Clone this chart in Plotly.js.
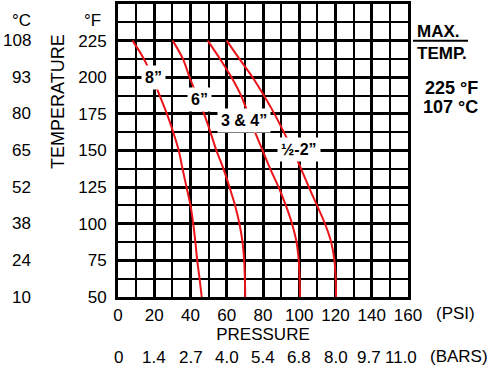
<!DOCTYPE html>
<html>
<head>
<meta charset="utf-8">
<script src="https://cdn.plot.ly/plotly-3.0.1.min.js"></script>
<style>html,body{margin:0;padding:0;background:#fff;}#chart{width:492px;height:369px;}</style>
</head>
<body>
<div id="chart"></div>
<script>
// ---- data ----
const psiTicks = [0, 20, 40, 60, 80, 100, 120, 140, 160];
const barsLabels = ['0', '1.4', '2.7', '4.0', '5.4', '6.8', '8.0', '9.7', '11.0'];
const tempTicksF = [50, 75, 100, 125, 150, 175, 200, 225];
const tempTicksC = ['10', '24', '38', '52', '65', '80', '93', '108'];
const maxTempF = 225;

const curveTemp = [225, 212.5, 200, 187.5, 175, 162.5, 150, 137.5, 125, 112.5, 100, 87.5, 75, 62.5, 50];
const curve8Psi     = [8, 14.3, 19, 23, 27, 30.5, 33.5, 35.6, 37.8, 40, 41.5, 42.7, 43.7, 45, 46.2];
const curve6Psi     = [30.2, 35.8, 39.5, 43.5, 47.5, 51, 54.3, 58.2, 61.5, 64.6, 67, 68.7, 69.6, 70, 70.2];
const curve34Psi    = [49.5, 56.3, 62.6, 67.9, 71.8, 75.6, 79.8, 84, 88.6, 92.6, 96, 98.5, 99.7, 100.2, 100.4];
const curveHalf2Psi = [60, 67, 74.2, 80.5, 86.3, 91.5, 96.5, 101, 105.3, 109.8, 114.2, 117.6, 119.4, 120.1, 120.3];

const curveLabels = ['8\u201D', '6\u201D', '3 &amp; 4\u201D', '\u00BD-2\u201D'];
const curveLabelPsi = [19.6, 45.2, 69.6, 99.8];
const curveLabelTemp = [199.5, 184.5, 170.8, 150.5];

// ---- geometry helpers (pixel -> paper) ----
const L = 118, R = 408, T = 4, B = 297;
const px = x => (x - L) / (R - L);
const py = y => (B - y) / (B - T);

const FONT = 'Liberation Sans, Arial, Helvetica, sans-serif';
const RED = 'rgb(236,20,24)';

const mk = (xs, ys) => ({
  x: xs, y: ys, type: 'scatter', mode: 'lines',
  line: {color: RED, width: 2, shape: 'spline', smoothing: 1},
  hoverinfo: 'skip'
});

const traces = [
  mk(curve8Psi, curveTemp),
  mk(curve6Psi, curveTemp),
  mk(curve34Psi, curveTemp),
  mk(curveHalf2Psi, curveTemp)
];

const annotations = [];
// curve labels
curveLabels.forEach((t, i) => annotations.push({
  x: curveLabelPsi[i], y: curveLabelTemp[i], xref: 'x', yref: 'y',
  text: t, showarrow: false, bgcolor: '#fff', borderpad: 3,
  font: {family: FONT, size: 16, color: '#000', weight: 'bold'}
}));
// Celsius column
tempTicksC.forEach((t, i) => annotations.push({
  x: px(33), y: tempTicksF[i], xref: 'paper', yref: 'y', xanchor: 'right', yanchor: 'middle',
  text: t, showarrow: false, font: {family: FONT, size: 17, color: '#000'}
}));
// bars row
barsLabels.forEach((t, i) => annotations.push({
  x: psiTicks[i], y: py(357), xref: 'x', yref: 'paper', yanchor: 'middle',
  xshift: i === barsLabels.length - 1 ? -7 : (i === barsLabels.length - 2 ? -3 : 0),
  text: t, showarrow: false, font: {family: FONT, size: 17, color: '#000'}
}));
const txt = (x, y, t, size, bold, extra) => annotations.push(Object.assign({
  x: px(x), y: py(y), xref: 'paper', yref: 'paper', xanchor: 'center', yanchor: 'middle',
  text: t, showarrow: false,
  font: {family: FONT, size: size, color: '#000', weight: bold ? 'bold' : 'normal'}
}, extra || {}));
txt(21, 21, '\u00B0C', 17, false);
txt(92, 21, '\u00B0F', 17, false);
txt(58, 102, 'TEMPERATURE', 18, false, {textangle: -90});
txt(455, 313, '(PSI)', 17, false);
txt(459, 356, '(BARS)', 17, false);
txt(438.5, 31, 'MAX.', 17, true);
txt(441.5, 53, 'TEMP.', 17, true);
txt(451, 87.5, '225\u00A0\u00B0F', 18, true);
txt(450, 106.5, '107\u00A0\u00B0C', 18, true);

const shapes = [
  {type: 'line', xref: 'x', yref: 'y', x0: 0, x1: 160, y0: maxTempF, y1: maxTempF, layer: 'below',
   line: {color: '#fff', width: 3.5}},
  {type: 'line', xref: 'x', yref: 'y', x0: 0, x1: 160, y0: maxTempF, y1: maxTempF, layer: 'below',
   line: {color: '#333', width: 2, dash: '5px,2px'}},
  {type: 'line', xref: 'paper', yref: 'y', x0: px(413), x1: px(468), y0: maxTempF, y1: maxTempF,
   line: {color: '#000', width: 2}}
];

const layout = {
  width: 492, height: 369,
  margin: {l: L, r: 492 - R, t: T, b: 369 - B, pad: 0},
  paper_bgcolor: '#fff', plot_bgcolor: '#fff',
  showlegend: false,
  font: {family: FONT, color: '#000', size: 17},
  xaxis: {
    range: [0, 160], tickmode: 'array', tickvals: psiTicks, ticks: '',
    showgrid: true, gridcolor: '#000', gridwidth: 3,
    minor: {tick0: 0, dtick: 10, showgrid: true, gridcolor: '#000', gridwidth: 2, ticks: ''},
    showline: true, linecolor: '#000', linewidth: 3, mirror: true, zeroline: false,
    tickfont: {family: FONT, size: 17, color: '#000'}, ticklabelstandoff: 1,
    title: {text: 'PRESSURE', font: {family: FONT, size: 17, color: '#000'}, standoff: 4},
    fixedrange: true
  },
  yaxis: {
    range: [50, 250], tickmode: 'array', tickvals: tempTicksF, ticks: '',
    showgrid: true, gridcolor: '#000', gridwidth: 3,
    minor: {tick0: 50, dtick: 12.5, showgrid: true, gridcolor: '#000', gridwidth: 2, ticks: ''},
    showline: true, linecolor: '#000', linewidth: 3, mirror: true, zeroline: false,
    tickfont: {family: FONT, size: 17, color: '#000'}, ticklabelstandoff: 5,
    fixedrange: true
  },
  annotations: annotations,
  shapes: shapes
};

Plotly.newPlot('chart', traces, layout, {staticPlot: true, displayModeBar: false});
</script>
</body>
</html>
